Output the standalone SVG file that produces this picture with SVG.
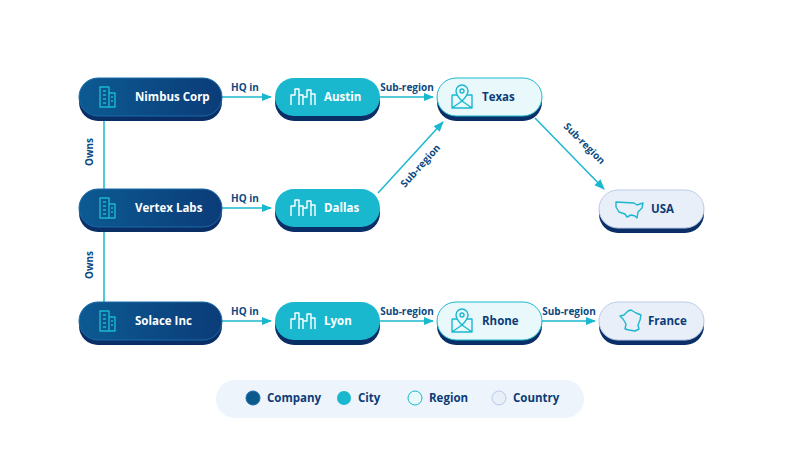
<svg xmlns="http://www.w3.org/2000/svg" width="800" height="449" viewBox="0 0 800 449">
<style>
text{font-family:"Open Sans","Noto Sans",sans-serif;font-weight:700}
.lbl{font-size:10px;fill:#0b4a82;text-anchor:middle}
.nt{font-size:11.5px}
.e{stroke:#1ab8cf;stroke-width:1.5;fill:none}
.ea{marker-end:url(#ar)}
.ic{fill:none;stroke-width:1.4;stroke-linejoin:round}
</style>
<defs>
<marker id="ar" viewBox="0 0 10 10" refX="9" refY="5" markerWidth="7" markerHeight="7" orient="auto"><path d="M0,1L10,5L0,9z" fill="#1ab8cf"/></marker>
<linearGradient id="gc" x1="0" x2="1"><stop offset="0" stop-color="#0c5a92"/><stop offset="1" stop-color="#0b3c78"/></linearGradient>
<g id="bld" class="ic" stroke="#1ab8cf"><path d="M0,-10h9v20h-9z M9,-4h6v14h-6"/><path d="M3,-6h3M3,-2h3M3,2h3M3,6h3M11,0h2M11,4h2"/></g>
<g id="city" class="ic" stroke="#fff"><path d="M-12,8v-10h4v-6h4v16M-4,-2h4v10M0,0h4v-7h4v15M8,-3h4v11"/></g>
<g id="pin" class="ic" stroke="#1ab8cf"><path d="M-10,-2h5M5,-2h5v13h-20v-13M-10,11l10,-7l10,7"/><path d="M0,4c-5,-5 -6,-8 -6,-10a6,6 0 0 1 12,0c0,2 -1,5 -6,10z"/><circle cx="0" cy="-6" r="2"/></g>
</defs>
<rect width="800" height="449" fill="#fff"/>
<g id="edges">
<path class="e" d="M104,116V189M104,227V302"/>
<text class="lbl" transform="translate(93,152) rotate(-90)">Owns</text>
<text class="lbl" transform="translate(93,265) rotate(-90)">Owns</text>
<path class="e ea" d="M222,97H271"/><text class="lbl" x="245" y="91">HQ in</text>
<path class="e ea" d="M222,208H271"/><text class="lbl" x="245" y="202">HQ in</text>
<path class="e ea" d="M222,321H271"/><text class="lbl" x="245" y="315">HQ in</text>
<path class="e ea" d="M380,97H433"/><text class="lbl" x="407" y="91">Sub-region</text>
<path class="e ea" d="M378,193L443,122"/><text class="lbl" transform="translate(423,168) rotate(-48)">Sub-region</text>
<path class="e ea" d="M535,118L604,189"/><text class="lbl" transform="translate(582,146) rotate(45)">Sub-region</text>
<path class="e ea" d="M380,321H433"/><text class="lbl" x="407" y="315">Sub-region</text>
<path class="e ea" d="M542,321H595"/><text class="lbl" x="569" y="315">Sub-region</text>
</g>
<g id="nimbus"><rect x="79" y="83" width="143" height="38" rx="19" fill="#0a2e66"/><rect x="79" y="78" width="143" height="38" rx="19" fill="url(#gc)" stroke="#1a6aa8"/><use href="#bld" x="100" y="97"/><text class="nt" x="135" y="101" fill="#fff">Nimbus Corp</text></g>
<g id="vertex"><rect x="79" y="194" width="143" height="38" rx="19" fill="#0a2e66"/><rect x="79" y="189" width="143" height="38" rx="19" fill="url(#gc)" stroke="#1a6aa8"/><use href="#bld" x="100" y="208"/><text class="nt" x="135" y="212" fill="#fff">Vertex Labs</text></g>
<g id="solace"><rect x="79" y="307" width="143" height="38" rx="19" fill="#0a2e66"/><rect x="79" y="302" width="143" height="38" rx="19" fill="url(#gc)" stroke="#1a6aa8"/><use href="#bld" x="100" y="321"/><text class="nt" x="135" y="325" fill="#fff">Solace Inc</text></g>
<g id="austin"><rect x="275" y="83" width="105" height="38" rx="19" fill="#0a2e66"/><rect x="275" y="78" width="105" height="38" rx="19" fill="#1ab8cf"/><use href="#city" x="303" y="97"/><text class="nt" x="324" y="101" fill="#fff">Austin</text></g>
<g id="dallas"><rect x="275" y="194" width="105" height="38" rx="19" fill="#0a2e66"/><rect x="275" y="189" width="105" height="38" rx="19" fill="#1ab8cf"/><use href="#city" x="303" y="208"/><text class="nt" x="324" y="212" fill="#fff">Dallas</text></g>
<g id="lyon"><rect x="275" y="307" width="105" height="38" rx="19" fill="#0a2e66"/><rect x="275" y="302" width="105" height="38" rx="19" fill="#1ab8cf"/><use href="#city" x="303" y="321"/><text class="nt" x="324" y="325" fill="#fff">Lyon</text></g>
<g id="texas"><rect x="437" y="83" width="105" height="38" rx="19" fill="#0a2e66"/><rect x="437" y="78" width="105" height="38" rx="19" fill="#e8f8fb" stroke="#1ab8cf"/><use href="#pin" x="462" y="97"/><text class="nt" x="482" y="101" fill="#0b3c78">Texas</text></g>
<g id="rhone"><rect x="437" y="307" width="105" height="38" rx="19" fill="#0a2e66"/><rect x="437" y="302" width="105" height="38" rx="19" fill="#e8f8fb" stroke="#1ab8cf"/><use href="#pin" x="462" y="321"/><text class="nt" x="482" y="325" fill="#0b3c78">Rhone</text></g>
<g id="usa"><rect x="599" y="195" width="105" height="38" rx="19" fill="#0a2e66"/><rect x="599" y="190" width="105" height="38" rx="19" fill="#e8eff9" stroke="#b9cbe8"/><path class="ic" stroke="#1ab8cf" d="M616,202l18,1l3,2l6,-2l-1,5l-4,4l-1,6l-2,-2l-4,-1l-4,2l-2,-3l-6,-2l-3,-5z"/><text class="nt" x="651" y="213" fill="#0b3c78">USA</text></g>
<g id="france"><rect x="599" y="307" width="105" height="38" rx="19" fill="#0a2e66"/><rect x="599" y="302" width="105" height="38" rx="19" fill="#e8eff9" stroke="#b9cbe8"/><path class="ic" stroke="#1ab8cf" d="M628,311l3,-1l5,3l5,2l-1,5l-2,5l1,4l-4,2l-6,-1l-4,-1l1,-5l-3,-5l-3,-3l4,-1z"/><text class="nt" x="648" y="325" fill="#0b3c78">France</text></g>
<g id="legend">
<rect x="216" y="380" width="368" height="38" rx="19" fill="#eef4fb"/>
<circle cx="253" cy="398" r="7" fill="#0b5a8c" stroke="#1a6aa8"/><text class="nt" x="267" y="402" fill="#0b3c78" font-size="11">Company</text>
<circle cx="344" cy="398" r="7" fill="#1ab8cf"/><text class="nt" x="358" y="402" fill="#0b3c78" font-size="11">City</text>
<circle cx="415" cy="398" r="7" fill="#e8f8fb" stroke="#1ab8cf"/><text class="nt" x="429" y="402" fill="#0b3c78" font-size="11">Region</text>
<circle cx="499" cy="398" r="7" fill="#e8eff9" stroke="#b9cbe8"/><text class="nt" x="513" y="402" fill="#0b3c78" font-size="11">Country</text>
</g>
</svg>
